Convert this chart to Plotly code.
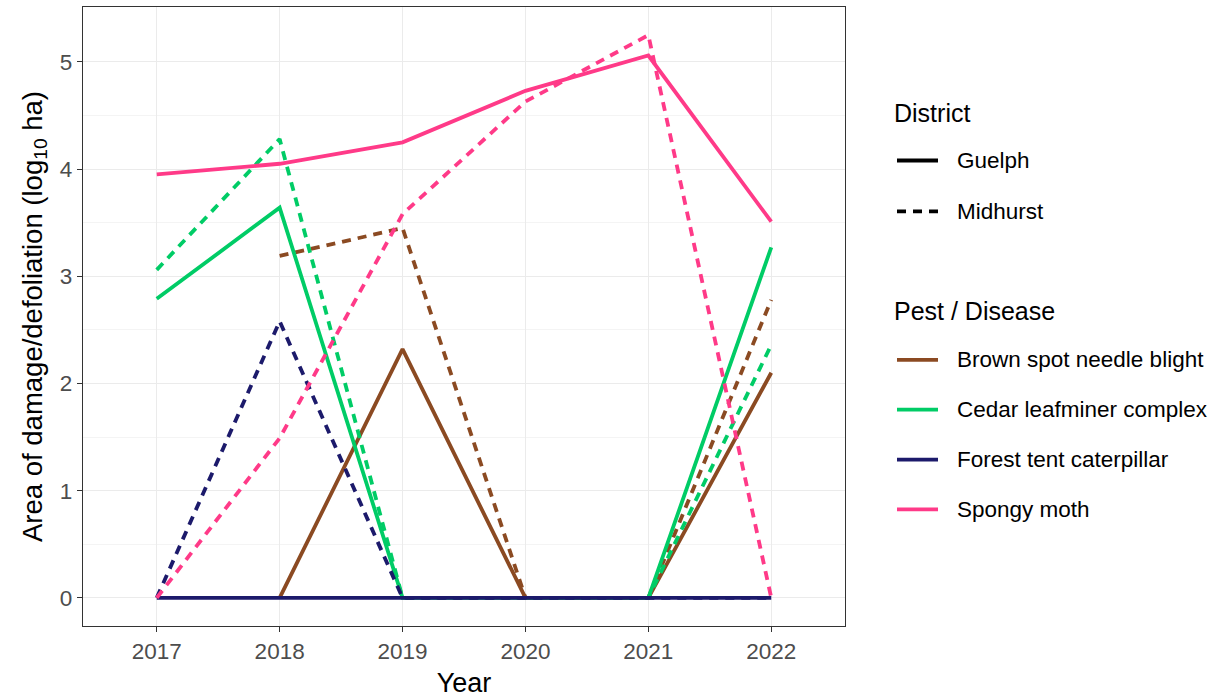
import plotly.graph_objects as go

# Annual area of damage/defoliation by pest and district (log10 ha)
years = [2017, 2018, 2019, 2020, 2021, 2022]

pests = [
    "Brown spot needle blight",
    "Cedar leafminer complex",
    "Forest tent caterpillar",
    "Spongy moth",
]
pest_colors = ["#8B4A22", "#00CC66", "#1C1A6B", "#FF3A88"]

districts = ["Guelph", "Midhurst"]
district_dash = ["solid", "9px,7px"]

brown_guelph = [None, 0, 2.32, 0, 0, 2.10]
brown_midhurst = [None, 3.19, 3.45, 0, 0, 2.78]
cedar_guelph = [2.79, 3.64, 0, 0, 0, 3.27]
cedar_midhurst = [3.06, 4.28, 0, 0, 0, 2.36]
ftc_guelph = [0, 0, 0, 0, 0, 0]
ftc_midhurst = [0, 2.58, 0, 0, 0, 0]
spongy_guelph = [3.95, 4.05, 4.25, 4.73, 5.06, 3.51]
spongy_midhurst = [0, 1.49, 3.58, 4.63, 5.25, 0]

series = [
    (brown_guelph, brown_midhurst),
    (cedar_guelph, cedar_midhurst),
    (ftc_guelph, ftc_midhurst),
    (spongy_guelph, spongy_midhurst),
]

W, H = 1218, 698
PL, PR, PT, PB = 83, 845, 6, 627  # panel box in pixels
LW = 3.8

FONT = "Liberation Sans, Arial, Helvetica, sans-serif"

fig = go.Figure()
for pest, color, pair in zip(pests, pest_colors, series):
    for district, dash, values in zip(districts, district_dash, pair):
        fig.add_trace(go.Scatter(
            x=years, y=values, mode="lines",
            name=f"{pest} ({district})",
            line=dict(color=color, width=LW, dash=dash),
            showlegend=False, connectgaps=False,
        ))


def px_x(px):
    return (px - PL) / (PR - PL)


def px_y(py):
    return (PB - py) / (PB - PT)


annotations = []
shapes = []

# Legend: linetype guide, then colour guide
annotations.append(dict(text="District", x=px_x(892), y=px_y(112),
                        xref="paper", yref="paper", xanchor="left", yanchor="middle",
                        showarrow=False, font=dict(size=25, color="black", family=FONT)))
for label, dash, py in zip(districts, ["solid", "dash"], [160, 211]):
    shapes.append(dict(type="line", xref="paper", yref="paper",
                       x0=px_x(897), x1=px_x(938), y0=px_y(py), y1=px_y(py),
                       line=dict(color="black", width=LW,
                                 dash="solid" if dash == "solid" else "9px,7px")))
    annotations.append(dict(text=label, x=px_x(955), y=px_y(py),
                            xref="paper", yref="paper", xanchor="left", yanchor="middle",
                            showarrow=False, font=dict(size=22.5, color="black", family=FONT)))

annotations.append(dict(text="Pest / Disease", x=px_x(892), y=px_y(311),
                        xref="paper", yref="paper", xanchor="left", yanchor="middle",
                        showarrow=False, font=dict(size=25, color="black", family=FONT)))
for label, color, py in zip(pests, pest_colors, [360, 410, 460, 510]):
    shapes.append(dict(type="line", xref="paper", yref="paper",
                       x0=px_x(897), x1=px_x(938), y0=px_y(py), y1=px_y(py),
                       line=dict(color=color, width=LW)))
    annotations.append(dict(text=label, x=px_x(955), y=px_y(py),
                            xref="paper", yref="paper", xanchor="left", yanchor="middle",
                            showarrow=False, font=dict(size=22.5, color="black", family=FONT)))

fig.update_layout(
    width=W, height=H,
    margin=dict(l=PL, r=W - PR, t=PT, b=H - PB, pad=0),
    paper_bgcolor="white", plot_bgcolor="white",
    font=dict(family=FONT, color="black"),
    annotations=annotations, shapes=shapes,
    showlegend=False,
)

fig.update_xaxes(
    range=[2016.4, 2022.6],
    tickvals=years, ticktext=[str(y) for y in years],
    showgrid=True, gridcolor="#EBEBEB", gridwidth=1.3,
    zeroline=False,
    showline=True, linecolor="#333333", linewidth=1.3, mirror=True,
    ticks="outside", ticklen=5, tickcolor="#333333", tickwidth=1.3,
    tickfont=dict(size=22.5, color="#4D4D4D", family=FONT),
    title=dict(text="Year", font=dict(size=27, color="black", family=FONT), standoff=9),
)

fig.update_yaxes(
    range=[-0.2625, 5.5125],
    tickvals=[0, 1, 2, 3, 4, 5],
    showgrid=True, gridcolor="#EBEBEB", gridwidth=1.3,
    minor=dict(tickvals=[0.5, 1.5, 2.5, 3.5, 4.5], showgrid=True,
               gridcolor="#F4F4F4", gridwidth=0.8, ticks=""),
    zeroline=False,
    showline=True, linecolor="#333333", linewidth=1.3, mirror=True,
    ticks="outside", ticklen=5, tickcolor="#333333", tickwidth=1.3,
    tickfont=dict(size=22.5, color="#4D4D4D", family=FONT),
    title=dict(text="Area of damage/defoliation (log<sub>10</sub> ha)",
               font=dict(size=27.5, color="black", family=FONT), standoff=9),
)

fig.write_html("out.html")
